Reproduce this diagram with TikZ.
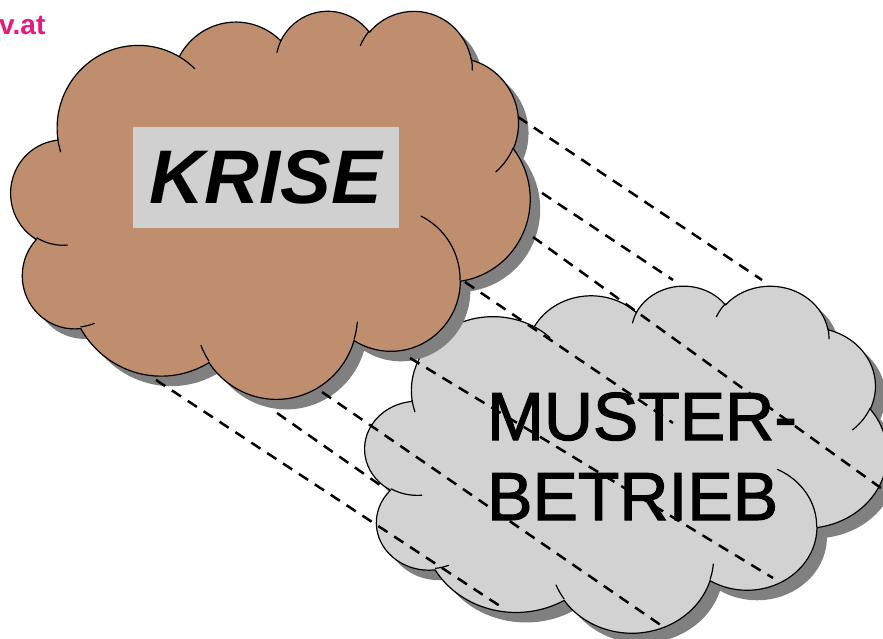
\documentclass[tikz,border=0pt]{standalone}
\usepackage{fontspec}
\setmainfont{Liberation Sans}
\newfontfamily\heavyfont[FakeBold=1.6]{Liberation Sans}
\definecolor{brownfill}{RGB}{190,142,111}
\definecolor{cloudgray}{RGB}{210,210,210}
\definecolor{boxgray}{RGB}{208,208,208}
\definecolor{shadowgray}{RGB}{128,128,128}
\definecolor{linkpink}{RGB}{232,24,128}
% visual (OOXML) angle -> parametric angle
\newcommand\cvang[3]{\pgfmathsetmacro\cvres{#3+atan2((#1-#2)*sin(#3)*cos(#3),#2*cos(#3)*cos(#3)+#1*sin(#3)*sin(#3))}}
\newcommand\carc[4]{\pgfextra{\cvang{#1}{#2}{#3}\global\let\cA\cvres\pgfmathsetmacro\ctmp{#3+#4}\cvang{#1}{#2}{\ctmp}\global\let\cB\cvres} arc[start angle=\cA, end angle=\cB, x radius=#1, y radius=#2]}
\newcommand\cloudpath{(3.9,14.37)
 \carc{6.753}{9.190}{-190.4875}{123.7805}
 \carc{5.333}{7.267}{-144.1024}{89.9452}
 \carc{4.365}{5.945}{-145.8079}{99.7230}
 \carc{4.857}{6.595}{-130.9861}{117.2417}
 \carc{5.333}{7.273}{-78.7089}{109.0269}
 \carc{6.775}{9.220}{-46.2673}{130.2690}
 \carc{5.785}{7.867}{0.6250}{114.0333}
 \carc{6.752}{9.215}{22.4516}{115.1726}
 \carc{7.720}{10.543}{66.2426}{75.7110}
 \carc{4.360}{5.918}{-274.9421}{146.7356}
 \carc{4.345}{5.945}{-246.8285}{152.5189} -- cycle}
\newcommand\cloudinner{
 (4.693,26.177) \carc{4.345}{5.945}{86.742}{26.430}
 (6.928,34.899) \carc{4.360}{5.918}{73.610}{11.447}
 (16.478,39.090) \carc{6.752}{9.215}{137.624}{14.081}
 (28.827,34.751) \carc{6.752}{9.215}{6.453}{15.998}
 (34.129,22.954) \carc{5.785}{7.867}{-70.292}{70.917}
 (41.798,15.354) \carc{5.333}{7.273}{30.318}{27.752}
 (38.324,5.426) \carc{4.857}{6.595}{-13.744}{14.859}
 (29.078,3.952) \carc{4.857}{6.595}{-149.181}{18.195}
 (22.141,4.720) \carc{4.365}{5.945}{-163.494}{17.686}
 (14.000,5.192) \carc{6.753}{9.190}{-66.707}{12.319}
 (4.127,15.789) \carc{6.753}{9.190}{157.654}{11.858}}
\tikzset{
  cloudline/.style={draw=black, line width=1.2pt, line join=round},
  innerline/.style={draw=black, line width=1.2pt, line cap=round},
  dashline/.style={draw=black, line width=2.5pt, dash pattern=on 11pt off 8pt},
}
\begin{document}
\begin{tikzpicture}[x=1pt, y=-1pt]
\useasboundingbox (0,0) rectangle (883,639);
\clip (0,0) rectangle (883,639);
\fill[white] (0,0) rectangle (883,639);
% grey cloud (Musterbetrieb)
\begin{scope}[shift={(375,295)}, x=12.083pt, y=-8.032pt]
  \fill[shadowgray] \cloudpath;
\end{scope}
\begin{scope}[shift={(365,285)}, x=12.083pt, y=-8.032pt]
  \path[fill=cloudgray, cloudline] \cloudpath;
  \path[innerline] \cloudinner;
\end{scope}
% brown cloud (Krise)
\begin{scope}[shift={(21,20)}, x=12.014pt, y=-8.981pt]
  \fill[shadowgray] \cloudpath;
\end{scope}
\begin{scope}[shift={(11,10)}, x=12.014pt, y=-8.981pt]
  \path[fill=brownfill, cloudline] \cloudpath;
  \path[innerline] \cloudinner;
\end{scope}
% projection lines
\coordinate (a1) at (518,117); \coordinate (b1) at (762,280);
\coordinate (a2) at (542,193); \coordinate (b2) at (673,280);
\coordinate (a3) at (533,237); \coordinate (b3) at (885,491);
\coordinate (a4) at (465,282); \coordinate (b4) at (673,423);
\coordinate (a5) at (410,358); \coordinate (b5) at (773,578);
\coordinate (a6) at (322,392); \coordinate (b6) at (665,628);
\coordinate (a7) at (277,413); \coordinate (b7) at (380,485);
\coordinate (a8) at (156,380); \coordinate (b8) at (503,608);
\foreach \i in {1,...,8} \draw[dashline] (a\i) -- (b\i);
% texts
\node[fill=boxgray, minimum width=266pt, minimum height=101pt, inner sep=0pt,
      font=\fontsize{76}{76}\selectfont\bfseries\itshape] (krise) at (266,177.5) {KRISE};
\node[anchor=base west, inner sep=0pt, font=\heavyfont\fontsize{68}{68}\selectfont] (muster) at (487,440) {MUSTER-};
\node[anchor=base west, inner sep=0pt, font=\heavyfont\fontsize{68}{68}\selectfont] (betrieb) at (487,520) {BETRIEB};
\node[anchor=base west, inner sep=0pt, text=linkpink, font=\fontsize{28}{28}\selectfont\bfseries] (web) at (-1,35) {v.at};
\end{tikzpicture}
\end{document}
